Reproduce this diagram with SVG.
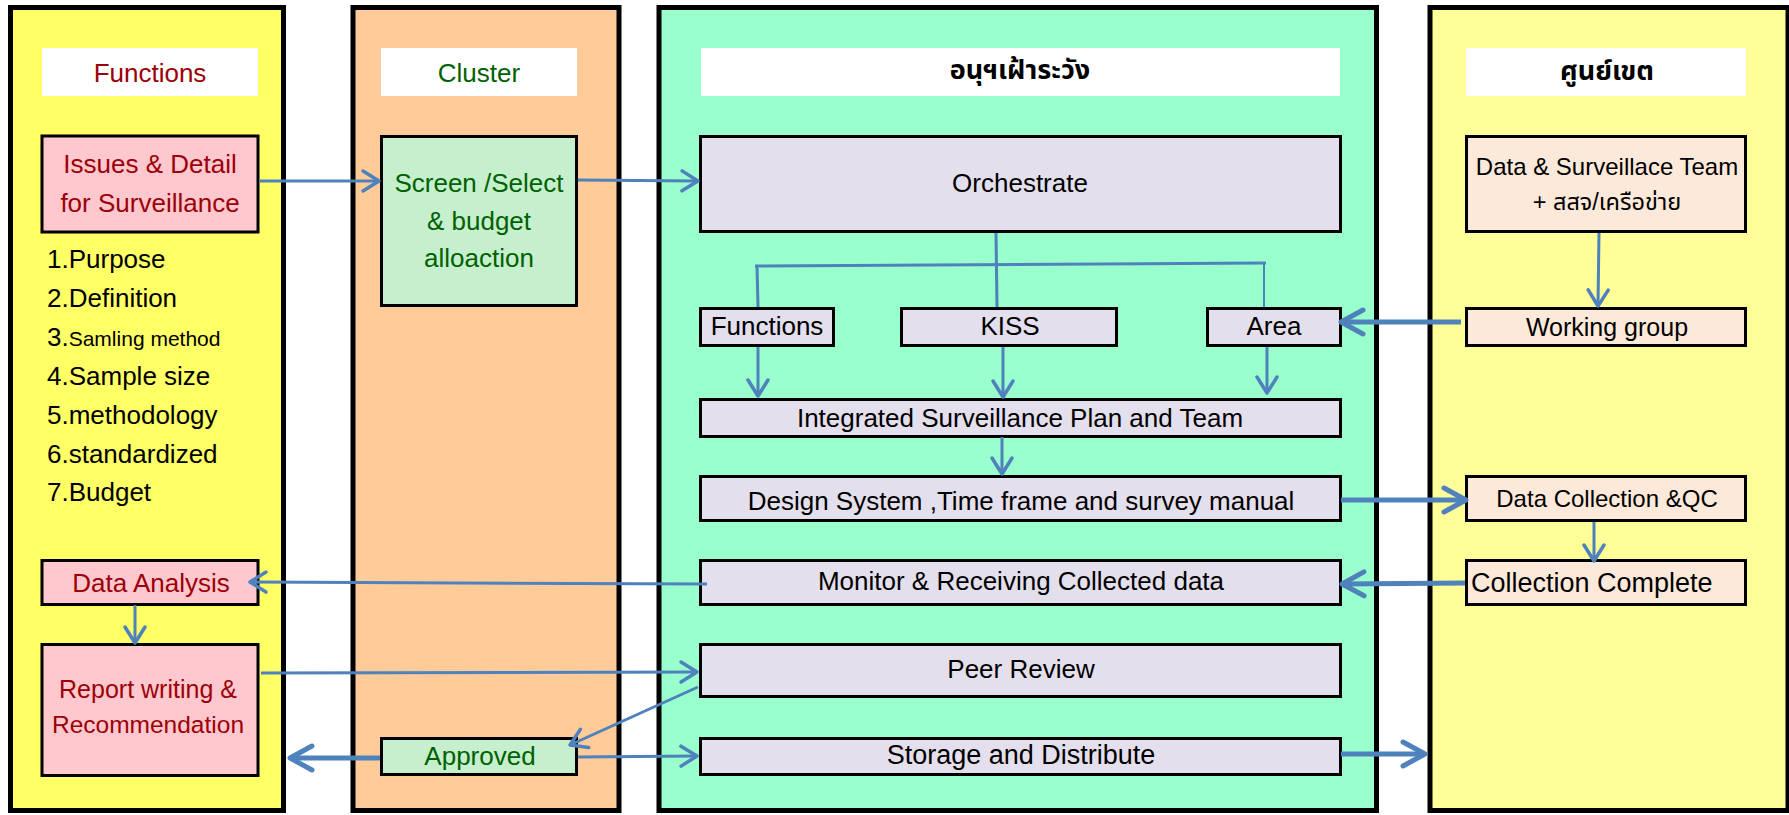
<svg xmlns="http://www.w3.org/2000/svg" width="1789" height="815" viewBox="0 0 1789 815">
<style>
text{font-family:"Liberation Sans","Noto Sans Thai","Noto Sans","DejaVu Sans",sans-serif;font-size:26px;fill:#000}
.th{font-family:"Noto Sans Thai","Noto Sans","DejaVu Sans","Liberation Sans",sans-serif;font-weight:bold;font-size:27px}
.col{stroke:#000;stroke-width:5}
.hdr{fill:#fff}
.box{stroke:#000;stroke-width:3}
.pink{fill:#FFC7CE}
.green{fill:#C6EFCE}
.lav{fill:#E4DFEC}
.pch{fill:#FDE9D9}
.red{fill:#9C0006}
.grn{fill:#006100}
.c{text-anchor:middle}
.ln{stroke:#4F81BD;stroke-width:3;fill:none}
.thk{stroke:#4F81BD;stroke-width:5;fill:none}
</style>
<defs>
<marker id="ah" markerUnits="userSpaceOnUse" viewBox="-20 -14 24 28" markerWidth="24" markerHeight="28" refX="0" refY="0" orient="auto">
<path d="M-16,-10 L0,0 L-16,10" fill="none" stroke="#4F81BD" stroke-width="3.5" stroke-linecap="round" stroke-linejoin="round"/>
</marker>
<marker id="ahk" markerUnits="userSpaceOnUse" viewBox="-26 -16 30 32" markerWidth="30" markerHeight="32" refX="0" refY="0" orient="auto">
<path d="M-22,-12 L0,0 L-22,12" fill="none" stroke="#4F81BD" stroke-width="5" stroke-linecap="round" stroke-linejoin="round"/>
</marker>
</defs>
<rect width="1789" height="815" fill="#fff"/>
<g id="lanes">
<g id="lane-functions"><rect class="col" x="10.5" y="7.5" width="273" height="803" fill="#FFFF66"/><rect class="hdr" x="42" y="48" width="216" height="48"/><text class="c red" x="150" y="82">Functions</text></g>
<g id="lane-cluster"><rect class="col" x="353" y="7.5" width="266" height="803" fill="#FFCC99"/><rect class="hdr" x="381" y="48" width="196" height="48"/><text class="c grn" x="479" y="82">Cluster</text></g>
<g id="lane-subcommittee"><rect class="col" x="659" y="7.5" width="717.5" height="803" fill="#99FFCC"/><rect class="hdr" x="701" y="48" width="639" height="48"/><text class="c th" x="1020" y="79">อนุฯเฝ้าระวัง</text></g>
<g id="lane-regional"><rect class="col" x="1430" y="7.5" width="358" height="803" fill="#FFFF99"/><rect class="hdr" x="1466" y="48" width="280" height="48"/><text class="c th" x="1607" y="80">ศูนย์เขต</text></g>
</g>
<g id="node-issues"><rect class="box pink" x="42" y="136" width="216" height="96"/><text class="c red" x="150" y="173">Issues &amp; Detail</text><text class="c red" x="150" y="212">for Surveillance</text></g>
<g id="node-list">
<text x="47" y="268">1.Purpose</text>
<text x="47" y="307">2.Definition</text>
<text x="47" y="346">3.<tspan style="font-size:21px">Samling method</tspan></text>
<text x="47" y="385">4.Sample size</text>
<text x="47" y="424">5.methodology</text>
<text x="47" y="463">6.standardized</text>
<text x="47" y="501">7.Budget</text>
</g>
<g id="node-analysis"><rect class="box pink" x="42" y="560.5" width="216" height="44"/><text class="c red" x="151" y="592">Data Analysis</text></g>
<g id="node-report"><rect class="box pink" x="42" y="644.5" width="216" height="131"/><text class="c red" x="148" y="698" style="font-size:25px">Report writing &amp;</text><text class="c red" x="148" y="733" style="font-size:24.5px">Recommendation</text></g>
<g id="node-screen"><rect class="box green" x="381.5" y="136.5" width="195" height="169"/><text class="c grn" x="479" y="192">Screen /Select</text><text class="c grn" x="479" y="230">&amp; budget</text><text class="c grn" x="479" y="267">alloaction</text></g>
<g id="node-approved"><rect class="box green" x="381.5" y="738.5" width="195" height="36"/><text class="c grn" x="480" y="765">Approved</text></g>
<g id="node-orchestrate"><rect class="box lav" x="700.5" y="136.5" width="640" height="95"/><text class="c" x="1020" y="192">Orchestrate</text></g>
<g id="node-functions"><rect class="box lav" x="700.5" y="308.5" width="133" height="37"/><text class="c" x="767" y="335">Functions</text></g>
<g id="node-kiss"><rect class="box lav" x="901.5" y="308.5" width="215" height="37"/><text class="c" x="1010" y="335">KISS</text></g>
<g id="node-area"><rect class="box lav" x="1207.5" y="308.5" width="133" height="37"/><text class="c" x="1274" y="335">Area</text></g>
<g id="node-integrated"><rect class="box lav" x="700.5" y="399.5" width="640" height="37"/><text class="c" x="1020" y="427">Integrated Surveillance Plan and Team</text></g>
<g id="node-design"><rect class="box lav" x="700.5" y="476.5" width="640" height="44"/><text class="c" x="1021" y="510">Design System ,Time frame and survey manual</text></g>
<g id="node-monitor"><rect class="box lav" x="700.5" y="560.5" width="640" height="44"/><text class="c" x="1021" y="590">Monitor &amp; Receiving Collected data</text></g>
<g id="node-peer"><rect class="box lav" x="700.5" y="644.5" width="640" height="52"/><text class="c" x="1021" y="678">Peer Review</text></g>
<g id="node-storage"><rect class="box lav" x="700.5" y="738.5" width="640" height="36"/><text class="c" x="1021" y="764" style="font-size:27px">Storage and Distribute</text></g>
<g id="node-team"><rect class="box pch" x="1466.5" y="136.5" width="279" height="95"/><text class="c" x="1607" y="175" style="font-size:24px">Data &amp; Surveillace Team</text><text class="c" x="1607" y="210" style="font-size:23.5px">+ สสจ/เครือข่าย</text></g>
<g id="node-working"><rect class="box pch" x="1466.5" y="308.5" width="279" height="37"/><text class="c" x="1607" y="336" style="font-size:25px">Working group</text></g>
<g id="node-collection"><rect class="box pch" x="1466.5" y="476.5" width="279" height="44"/><text class="c" x="1607" y="507" style="font-size:24px">Data Collection &amp;QC</text></g>
<g id="node-complete"><rect class="box pch" x="1466.5" y="560.5" width="279" height="44"/><text x="1471" y="592" style="font-size:27px">Collection Complete</text></g>
<g id="connectors">
<path class="ln" d="M259,181 L379,181" marker-end="url(#ah)"/>
<path class="ln" d="M578,180 L698,181" marker-end="url(#ah)"/>
<path class="ln" d="M996,233 L997,307"/>
<path class="ln" d="M755,266 L1266,263"/>
<path class="ln" d="M757,266 L758,307"/>
<path class="ln" d="M1264,263 L1264,307" style="stroke-width:2px"/>
<path class="ln" d="M758,347 L758,396" marker-end="url(#ah)"/>
<path class="ln" d="M1003,347 L1003,397" marker-end="url(#ah)"/>
<path class="ln" d="M1267,347 L1267,393" marker-end="url(#ah)"/>
<path class="ln" d="M1002,437 L1002,474" marker-end="url(#ah)"/>
<path class="ln" d="M1599,233 L1598,306" marker-end="url(#ah)"/>
<path class="thk" d="M1461,322 L1341,322" marker-end="url(#ahk)"/>
<path class="thk" d="M1341,500 L1466,500" marker-end="url(#ahk)"/>
<path class="ln" d="M1594,522 L1594,561" marker-end="url(#ah)"/>
<path class="thk" d="M1465,583 L1342,584" marker-end="url(#ahk)"/>
<path class="ln" d="M707,584 L250,582" marker-end="url(#ah)"/>
<path class="ln" d="M135,605 L135,643" marker-end="url(#ah)"/>
<path class="ln" d="M261,673 L697,672" marker-end="url(#ah)"/>
<path class="ln" d="M698,687 L570,745" marker-end="url(#ah)"/>
<path class="thk" d="M380,758 L290,758" marker-end="url(#ahk)"/>
<path class="ln" d="M578,757 L697,756" marker-end="url(#ah)"/>
<path class="thk" d="M1341,754 L1425,754" marker-end="url(#ahk)"/>
</g>
</svg>
